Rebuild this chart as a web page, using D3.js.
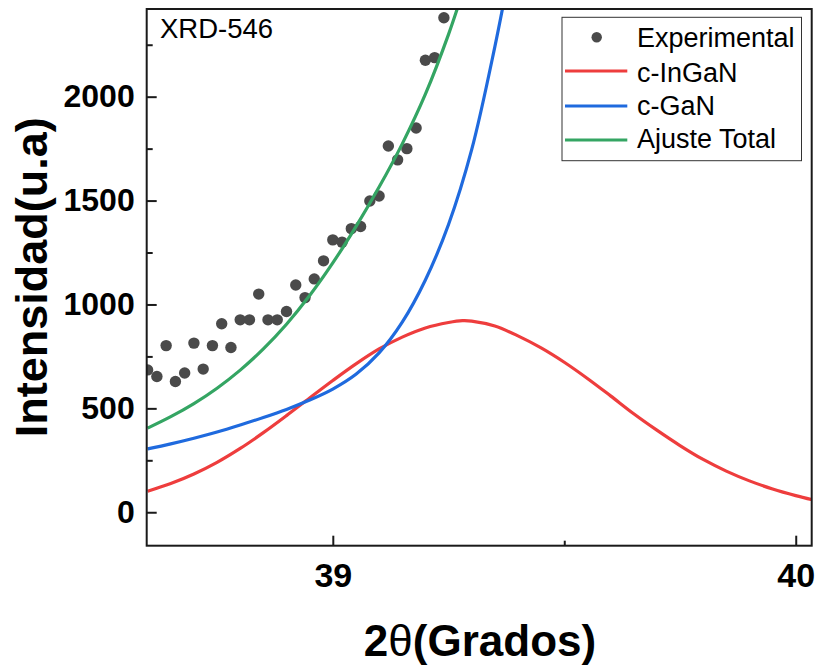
<!DOCTYPE html>
<html>
<head>
<meta charset="utf-8">
<script src="https://cdn.jsdelivr.net/npm/d3@7"></script>
<style>
  html, body { margin: 0; padding: 0; background: #ffffff; }
  svg { display: block; font-family: Arial, "Liberation Sans", Helvetica, sans-serif; }
</style>
</head>
<body>
<svg id="chart" width="817" height="667"></svg>
<script>
// ---- Data ----
const expTheta = [38.60, 38.62, 38.64, 38.66, 38.68, 38.70, 38.72, 38.74, 38.76, 38.78,
                  38.80, 38.82, 38.84, 38.86, 38.88, 38.90, 38.92, 38.94, 38.96, 38.98,
                  39.00, 39.02, 39.04, 39.06, 39.08, 39.10, 39.12, 39.14, 39.16, 39.18,
                  39.20, 39.22, 39.24];
const expIntensity = [685, 653, 802, 629, 670, 814, 689, 802, 907, 793,
                      926, 926, 1050, 926, 926, 966, 1094, 1033, 1123, 1210,
                      1311, 1300, 1365, 1375, 1498, 1522, 1763, 1696, 1750, 1849,
                      2175, 2188, 2380];

const inGaNTheta = [38.60, 38.65, 38.70, 38.75, 38.80, 38.85, 38.90, 38.95, 39.00, 39.05,
                    39.10, 39.15, 39.20, 39.25, 39.28, 39.30, 39.35, 39.40, 39.45, 39.50,
                    39.55, 39.60, 39.65, 39.70, 39.75, 39.80, 39.85, 39.90, 39.95, 40.00, 40.04];
const inGaNIntensity = [101, 138, 184, 240, 307, 383, 465, 550, 634, 714,
                        786, 843, 887, 913, 922, 920, 896, 849, 791, 722,
                        644, 560, 474, 395, 321, 254, 198, 151, 112, 80, 58];

const gaNTheta = [38.60, 38.65, 38.70, 38.75, 38.80, 38.85, 38.90, 38.95, 39.00, 39.05,
                  39.10, 39.15, 39.20, 39.25, 39.30, 39.35, 39.38];
const gaNIntensity = [305, 329, 356, 386, 420, 456, 495, 540, 593, 664,
                      767, 915, 1118, 1385, 1745, 2240, 2580];

const totalTheta = [38.60, 38.65, 38.70, 38.75, 38.80, 38.85, 38.90, 38.95, 39.00, 39.05,
                    39.10, 39.15, 39.20, 39.25, 39.28];
const totalIntensity = [405, 460, 523, 597, 684, 786, 905, 1043, 1200, 1375,
                        1565, 1773, 2012, 2300, 2500];

const xMajorTicks = [39, 40];
const xMinorTicks = [39.5];
const yMajorTicks = [0, 500, 1000, 1500, 2000];
const yMinorTicks = [250, 750, 1250, 1750, 2250];

const legendLabels = ["Experimental", "c-InGaN", "c-GaN", "Ajuste Total"];
const colors = { exp: "#4a4a4a", inGaN: "#ee3d3d", gaN: "#1f6ade", total: "#34a563" };

// ---- Layout ----
const svg = d3.select("#chart");
const plot = { left: 146.7, right: 811.7, top: 9, bottom: 545.7 };

const x = d3.scaleLinear().domain([38.598, 40.0345]).range([plot.left, plot.right]);
const y = d3.scaleLinear().domain([-161, 2422]).range([plot.bottom, plot.top]);

svg.append("defs").append("clipPath").attr("id", "clip")
  .append("rect")
  .attr("x", plot.left).attr("y", plot.top)
  .attr("width", plot.right - plot.left).attr("height", plot.bottom - plot.top);

const g = svg.append("g").attr("clip-path", "url(#clip)");

const line = d3.line().curve(d3.curveCatmullRom.alpha(0.5))
  .x(d => x(d[0])).y(d => y(d[1]));

g.append("path").datum(d3.zip(inGaNTheta, inGaNIntensity))
  .attr("d", line).attr("fill", "none").attr("stroke", colors.inGaN).attr("stroke-width", 3.2);
g.append("path").datum(d3.zip(gaNTheta, gaNIntensity))
  .attr("d", line).attr("fill", "none").attr("stroke", colors.gaN).attr("stroke-width", 3.2);

g.selectAll("circle.exp").data(d3.zip(expTheta, expIntensity)).enter()
  .append("circle").attr("class", "exp")
  .attr("cx", d => x(d[0])).attr("cy", d => y(d[1])).attr("r", 5.7)
  .attr("fill", colors.exp);

g.append("path").datum(d3.zip(totalTheta, totalIntensity))
  .attr("d", line).attr("fill", "none").attr("stroke", colors.total).attr("stroke-width", 3.2);

// ---- Axes ----
const axisColor = "#1a1a1a";
function styleAxis(sel) {
  sel.select(".domain").remove();
  sel.selectAll(".tick line").attr("stroke", axisColor).attr("stroke-width", 2);
}

const xAxisMajor = svg.append("g").attr("transform", `translate(0,${plot.bottom})`)
  .call(d3.axisBottom(x).tickValues(xMajorTicks).tickSizeInner(-10).tickSizeOuter(0)
        .tickPadding(17).tickFormat(d3.format("d")));
styleAxis(xAxisMajor);
xAxisMajor.selectAll("text").attr("font-size", 34).attr("font-weight", "bold")
  .attr("fill", "#000").attr("font-family", "Arial, 'Liberation Sans', sans-serif");

const xAxisMinor = svg.append("g").attr("transform", `translate(0,${plot.bottom})`)
  .call(d3.axisBottom(x).tickValues(xMinorTicks).tickSizeInner(-5).tickSizeOuter(0).tickFormat(""));
styleAxis(xAxisMinor);

const yAxisMajor = svg.append("g").attr("transform", `translate(${plot.left},0)`)
  .call(d3.axisLeft(y).tickValues(yMajorTicks).tickSizeInner(-10).tickSizeOuter(0)
        .tickPadding(12).tickFormat(d3.format("d")));
styleAxis(yAxisMajor);
yAxisMajor.selectAll("text").attr("font-size", 32).attr("font-weight", "bold")
  .attr("fill", "#000").attr("font-family", "Arial, 'Liberation Sans', sans-serif");

const yAxisMinor = svg.append("g").attr("transform", `translate(${plot.left},0)`)
  .call(d3.axisLeft(y).tickValues(yMinorTicks).tickSizeInner(-6).tickSizeOuter(0).tickFormat(""));
styleAxis(yAxisMinor);

// frame
svg.append("rect")
  .attr("x", plot.left).attr("y", plot.top)
  .attr("width", plot.right - plot.left).attr("height", plot.bottom - plot.top)
  .attr("fill", "none").attr("stroke", axisColor).attr("stroke-width", 2);

// ---- Titles ----
svg.append("text")
  .attr("transform", `translate(46.7,${(plot.top + plot.bottom) / 2})rotate(-90)`)
  .attr("text-anchor", "middle").attr("font-size", 45).attr("font-weight", "bold")
  .attr("fill", "#000")
  .text("Intensidad(u.a)");

const xt = svg.append("text")
  .attr("x", 480).attr("y", 656).attr("text-anchor", "middle")
  .attr("font-size", 44).attr("font-weight", "bold").attr("fill", "#000");
xt.append("tspan").text("2");
xt.append("tspan").attr("font-weight", "normal").text("θ");
xt.append("tspan").text("(Grados)");

svg.append("text").attr("x", 160).attr("y", 38.3)
  .attr("font-size", 27.5).attr("fill", "#000").text("XRD-546");

// ---- Legend ----
const lg = svg.append("g");
lg.append("rect").attr("x", 562).attr("y", 17.3).attr("width", 239.5).attr("height", 143.4)
  .attr("fill", "#fff").attr("stroke", "#333").attr("stroke-width", 1);
const rowsY = [37.3, 71, 106, 140];
const baseY = [46.7, 81.7, 115, 148.3];
lg.append("circle").attr("cx", 596.7).attr("cy", rowsY[0]).attr("r", 5.2).attr("fill", colors.exp);
[colors.inGaN, colors.gaN, colors.total].forEach((c, i) => {
  lg.append("line").attr("x1", 565).attr("x2", 627.3)
    .attr("y1", rowsY[i + 1]).attr("y2", rowsY[i + 1])
    .attr("stroke", c).attr("stroke-width", 3.2);
});
legendLabels.forEach((t, i) => {
  lg.append("text").attr("x", 637).attr("y", baseY[i])
    .attr("font-size", 27).attr("fill", "#000").text(t);
});
</script>
</body>
</html>
